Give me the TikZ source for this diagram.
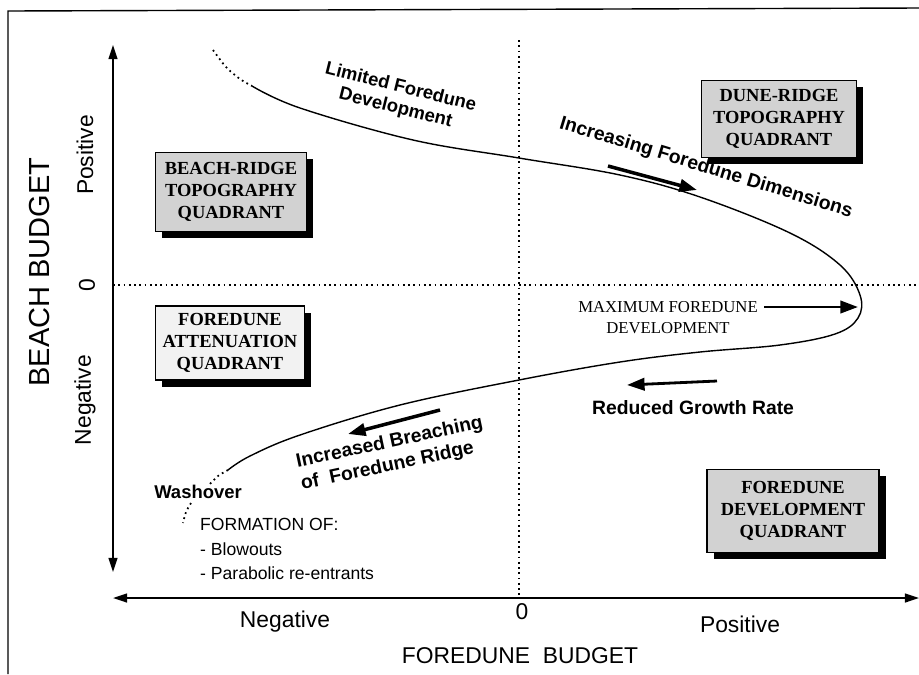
\documentclass[tikz,border=0pt]{standalone}
\usepackage{fontspec}
\setmainfont{Liberation Sans}
\newfontfamily\quadfont{Liberation Serif}
\usetikzlibrary{arrows.meta, shadows}

\tikzset{
  quadrant/.style={draw, thick, fill=gray!35, align=center,
    font=\quadfont\bfseries\fontsize{10.5}{12.5}\selectfont,
    inner sep=2pt, % boxes get their size from minimum width/height
    drop shadow={shadow xshift=3.8pt, shadow yshift=-3.8pt,
      fill=black, opacity=1}},
  trend/.style={font=\bfseries\fontsize{10.5}{12}\selectfont, align=center},
  axislabel/.style={font=\fontsize{13}{15}\selectfont},
  bigarrow/.style={line width=2pt, -{Triangle[length=10pt,width=7pt]}},
  axis/.style={line width=1.1pt,
    {Triangle[length=8pt,width=5pt]}-{Triangle[length=8pt,width=5pt]}},
  guide/.style={dotted, line width=1pt},
}

\begin{document}
\begin{tikzpicture}[x=0.02cm, y=-0.02cm]
  \useasboundingbox (0,0) rectangle (919,674);

  % frame of the scanned figure
  \draw[line width=0.8pt] (8,674) -- (8,11) -- (919,8);

  % axes and zero lines
  \coordinate (ytop) at (113,45);
  \coordinate (ybot) at (113,572);
  \coordinate (xleft) at (113,598);
  \coordinate (xright) at (919,598);
  \coordinate (vtop) at (519,40);
  \coordinate (vbot) at (519,596);
  \coordinate (hleft) at (113,285);
  \coordinate (hright) at (919,285);
  \draw[axis] (ytop) -- (ybot);
  \draw[axis] (xleft) -- (xright);
  \draw[guide] (vtop) -- (vbot);
  \draw[guide] (hleft) -- (hright);

  % axis labels
  \node[axislabel, rotate=90] (ypos) at (85,155) {Positive};
  \node[axislabel, rotate=90] (yzero) at (87,285) {0};
  \node[axislabel, rotate=90] (yneg) at (85,400) {Negative};
  \node[font=\fontsize{16.5}{19}\selectfont, rotate=90] (ytitle) at (40,272) {BEACH BUDGET};
  \node[axislabel] (xneg) at (285,622) {Negative};
  \node[axislabel] (xzero) at (522,612) {0};
  \node[axislabel] (xpos) at (740,624) {Positive};
  \node[axislabel] (xtitle) at (520,656) {FOREDUNE~~BUDGET};

  % quadrant boxes
  \node[quadrant, minimum width=86pt, minimum height=45pt] (beach) at (231,192)
    {BEACH-RIDGE\\TOPOGRAPHY\\QUADRANT};
  \node[quadrant, minimum width=88pt, minimum height=44pt] (dune) at (779,119)
    {DUNE-RIDGE\\TOPOGRAPHY\\QUADRANT};
  \node[quadrant, fill=gray!10, minimum width=85pt, minimum height=42pt] (atten) at (230,343)
    {FOREDUNE\\ATTENUATION\\QUADRANT};
  \node[quadrant, minimum width=98pt, minimum height=47pt] (develop) at (793,511)
    {FOREDUNE\\DEVELOPMENT\\QUADRANT};

  % the foredune curve
  \draw[guide] plot[smooth] coordinates {(213,50) (226,67) (240,79) (252,86)};
  \draw[thick] plot[smooth, tension=0.6] coordinates {(252,86) (300,108) (413,140)
    (519,158) (620,175) (700,197) (790,233) (840,265) (860,295) (858,318)
    (835,334) (780,345) (700,352) (620,362) (519,380) (400,405) (300,435)
    (250,456) (228,470)};
  \draw[guide] plot[smooth] coordinates {(228,470) (218,476) (209,485)};
  \draw[guide] plot[smooth] coordinates {(191,503) (186,512) (183,523)};

  % trend arrows
  \coordinate (incA) at (608,166);
  \coordinate (incB) at (697,190);
  \coordinate (maxA) at (764,307);
  \coordinate (maxB) at (858,307);
  \coordinate (redA) at (717,381);
  \coordinate (redB) at (627,385);
  \coordinate (brA) at (440,410);
  \coordinate (brB) at (348,434);
  \draw[bigarrow] (incA) -- (incB);
  \draw[bigarrow, line width=1.6pt] (maxA) -- (maxB);
  \draw[bigarrow, line width=1.6pt] (redA) -- (redB);
  \draw[bigarrow] (brA) -- (brB);

  % labels along the curve
  \node[trend, rotate=-14] (limited) at (398,98) {Limited Foredune\\Development};
  \node[trend, font=\bfseries\fontsize{11}{13}\selectfont, rotate=-17] (increasing) at (706,168)
    {Increasing Foredune Dimensions};
  \node[font=\quadfont\fontsize{9.5}{12}\selectfont, align=center] (maximum) at (668,318)
    {MAXIMUM FOREDUNE\\DEVELOPMENT};
  \node[trend, font=\bfseries\fontsize{11}{13}\selectfont] (reduced) at (693,408)
    {Reduced Growth Rate};
  \node[trend, font=\bfseries\fontsize{11}{13}\selectfont, align=left, rotate=12] (breaching)
    at (392,454) {Increased Breaching\\of~ Foredune Ridge};
  \node[trend] (washover) at (198,492) {Washover};
  \node[font=\fontsize{10}{14}\selectfont, align=left, anchor=north west] (formation)
    at (194,512) {FORMATION OF:\\- Blowouts\\- Parabolic re-entrants};
\end{tikzpicture}
\end{document}
